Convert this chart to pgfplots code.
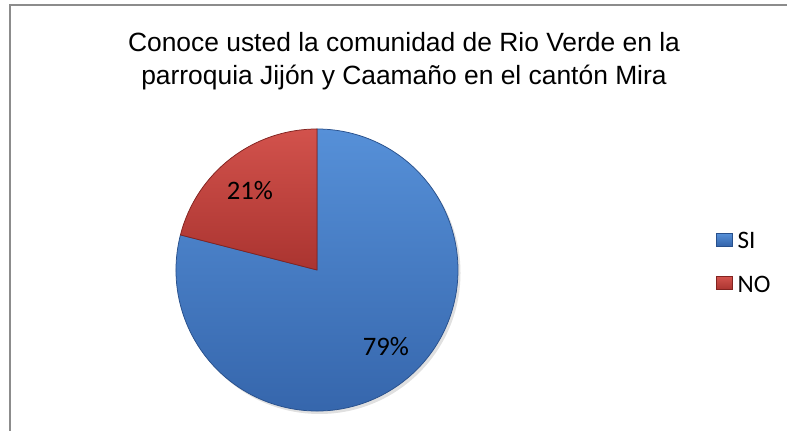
\documentclass[border=0pt]{standalone}
\usepackage{pgfplots}
\usepackage{pgfplotstable}
\pgfplotsset{compat=1.18}
\usepackage{fontspec}
\setmainfont{Carlito}
\newfontfamily\arialfont{Liberation Sans}
\definecolor{bluetop}{RGB}{86,144,216}
\definecolor{bluebot}{RGB}{52,100,170}
\definecolor{blueedge}{RGB}{40,80,140}
\definecolor{redtop}{RGB}{210,82,76}
\definecolor{redbot}{RGB}{170,52,48}
\definecolor{rededge}{RGB}{130,35,32}
\definecolor{framegray}{RGB}{140,140,140}
\pgfplotstableread{
label value
SI 79
NO 21
}\piedata
\begin{document}
\begin{tikzpicture}
\pgfplotstablegetelem{0}{value}\of\piedata \let\vSI\pgfplotsretval
\pgfplotstablegetelem{1}{value}\of\piedata \let\vNO\pgfplotsretval
\pgfmathsetmacro{\total}{\vSI+\vNO}
\pgfmathsetmacro{\aNOend}{90+\vNO/\total*360}
\pgfmathsetmacro{\aSIend}{\aNOend+\vSI/\total*360}
\pgfmathsetmacro{\rad}{141*11/787}
\begin{axis}[
  width=11cm, height=6.0241cm, scale only axis,
  xmin=0, xmax=787, ymin=0, ymax=431,
  hide axis, clip=false,
  legend style={draw=none, fill=none, at={(axis cs:716,198.3)}, anchor=north west,
    inner sep=0pt, outer sep=0pt,
    font=\fontsize{10}{12}\selectfont, row sep=10.8pt, column sep=2.1pt,
    nodes={inner sep=0pt, outer sep=0pt, text height=6.44pt, text depth=0pt}},
  legend cell align=left,
  legend image code/.code={\fill[#1] (0pt,-2.13pt) rectangle (6.2pt,2.97pt);},
]
\addlegendimage{top color=bluetop, bottom color=bluebot, draw=blueedge, line width=0.3pt}
\addlegendentry{SI}
\addlegendimage{top color=redtop, bottom color=redbot, draw=rededge, line width=0.3pt}
\addlegendentry{NO}
\coordinate (bl) at (axis cs:0,0);
\coordinate (tr) at (axis cs:787,431);
% frame
\draw[framegray, line width=0.8pt] (axis cs:10,0) -- (axis cs:10,426) -- (axis cs:787,426);
% soft shadow
\fill[black!12] (axis cs:319.5,158) circle[radius=\rad cm];
% pie slices from table values
\path[top color=bluetop, bottom color=bluebot, draw=blueedge, line width=0.3pt]
  (axis cs:317,161) -- ++(\aNOend:\rad cm) arc[start angle=\aNOend, end angle=\aSIend, radius=\rad cm] -- cycle;
\path[top color=redtop, bottom color=redbot, draw=rededge, line width=0.3pt]
  (axis cs:317,161) -- ++(90:\rad cm) arc[start angle=90, end angle=\aNOend, radius=\rad cm] -- cycle;
\node[font=\fontsize{10.6}{12}\selectfont] at (axis cs:250,240) {\vNO\%};
\node[font=\fontsize{10.6}{12}\selectfont] at (axis cs:386,84.5) {\vSI\%};
% title
\node[font=\arialfont\fontsize{10.5}{13}\selectfont, anchor=base, inner sep=0pt] at (axis cs:404,379)
  {Conoce usted la comunidad de Rio Verde en la};
\node[font=\arialfont\fontsize{10.5}{13}\selectfont, anchor=base, inner sep=0pt] at (axis cs:404,346)
  {parroquia Jijón y Caamaño en el cantón Mira};
\end{axis}
\pgfresetboundingbox
\path[use as bounding box] (bl) rectangle (tr);
\end{tikzpicture}
\end{document}
